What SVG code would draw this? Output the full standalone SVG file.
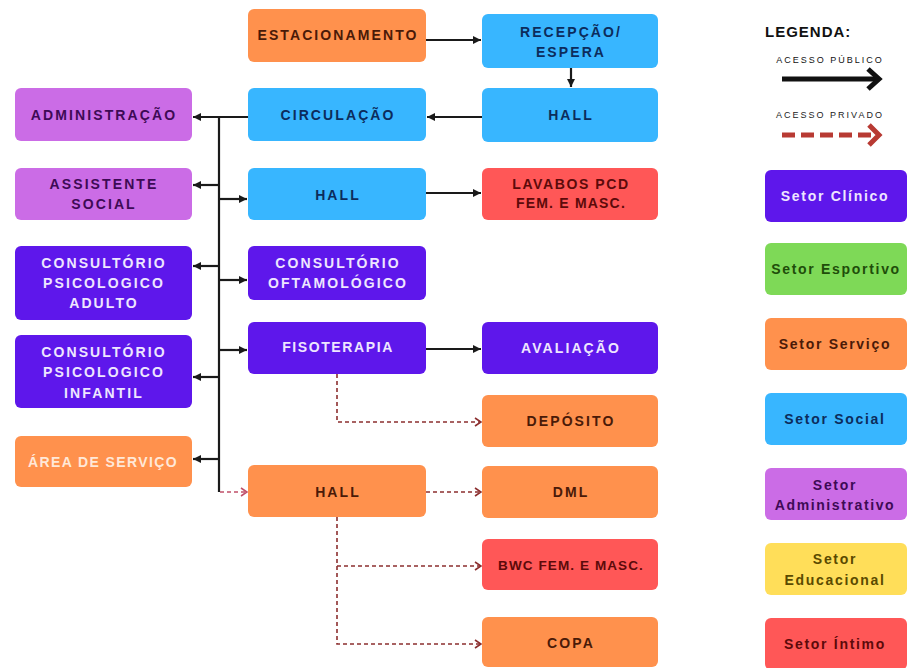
<svg xmlns="http://www.w3.org/2000/svg" width="907" height="668" viewBox="0 0 907 668">
<style>
.n text{font-family:"Liberation Sans",Arial,sans-serif;font-weight:700;font-size:14px;letter-spacing:2.1px;text-anchor:middle}
.lg text{font-family:"Liberation Sans",Arial,sans-serif;font-weight:700;font-size:14px;letter-spacing:1.7px;text-anchor:middle}
.or{fill:#FF914D}.bl{fill:#38B6FF}.lp{fill:#CB6CE6}.dp{fill:#5E17EB}.rd{fill:#FF5757}.gr{fill:#7ED957}.ye{fill:#FFDE59}
.tor{fill:#4a1a08}.tbl{fill:#0c2c5c}.tlp{fill:#3d0a55}.tdp{fill:#EEE6FF}.trd{fill:#5c0a0a}.tgr{fill:#1f4d0a}.tye{fill:#5a4a00}
.solid{fill:none;stroke:#1a1a1a;stroke-width:2.2}
.dash{fill:none;stroke:#8C2F2F;stroke-width:1.6;stroke-dasharray:4 3}
</style>
<defs>
<marker id="arr" markerUnits="userSpaceOnUse" markerWidth="8" markerHeight="8" refX="8" refY="4" orient="auto">
<path d="M0,0 L8,4 L0,8 z" fill="#1a1a1a"/>
</marker>
<marker id="open" markerUnits="userSpaceOnUse" markerWidth="8" markerHeight="10" refX="7" refY="5" orient="auto">
<path d="M1,1 L7,5 L1,9" fill="none" stroke="#8C2F2F" stroke-width="1.6"/>
</marker>
<marker id="openp" markerUnits="userSpaceOnUse" markerWidth="8" markerHeight="10" refX="7" refY="5" orient="auto">
<path d="M1,1 L7,5 L1,9" fill="none" stroke="#C0506A" stroke-width="1.6"/>
</marker>
</defs>
<rect width="907" height="668" fill="#ffffff"/>

<g id="connectors">
<path class="solid" d="M426,40 H481" marker-end="url(#arr)"/>
<path class="solid" d="M571,68 V87" marker-end="url(#arr)"/>
<path class="solid" d="M482,117 H427" marker-end="url(#arr)"/>
<path class="solid" d="M248,117 H193" marker-end="url(#arr)"/>
<path class="solid" d="M219,117 V492"/>
<path class="solid" d="M219,185 H193" marker-end="url(#arr)"/>
<path class="solid" d="M219,199 H247" marker-end="url(#arr)"/>
<path class="solid" d="M219,266 H193" marker-end="url(#arr)"/>
<path class="solid" d="M219,280 H247" marker-end="url(#arr)"/>
<path class="solid" d="M219,350 H247" marker-end="url(#arr)"/>
<path class="solid" d="M219,377 H193" marker-end="url(#arr)"/>
<path class="solid" d="M219,459 H193" marker-end="url(#arr)"/>
<path class="solid" d="M426,193 H481" marker-end="url(#arr)"/>
<path class="solid" d="M426,349 H481" marker-end="url(#arr)"/>
<path class="dash" style="stroke:#C0506A" d="M220,492 H247" marker-end="url(#openp)"/>
<path class="dash" d="M337,374 V422 H481" marker-end="url(#open)"/>
<path class="dash" d="M426,492 H481" marker-end="url(#open)"/>
<path class="dash" d="M337,517 V644 H481" marker-end="url(#open)"/>
<path class="dash" d="M337,566 H481" marker-end="url(#open)"/>
</g>

<g class="n">
<g id="estacionamento"><rect class="or" x="248" y="9" width="178" height="53" rx="6"/><text class="tor" x="338" y="40">ESTACIONAMENTO</text></g>
<g id="recepcao"><rect class="bl" x="482" y="14" width="176" height="54" rx="6"/><text class="tbl" x="571" y="37">RECEPÇÃO/</text><text class="tbl" x="571" y="57">ESPERA</text></g>
<g id="hall1"><rect class="bl" x="482" y="88" width="176" height="54" rx="6"/><text class="tbl" x="571" y="120">HALL</text></g>
<g id="circulacao"><rect class="bl" x="248" y="88" width="178" height="53" rx="6"/><text class="tbl" x="338" y="120">CIRCULAÇÃO</text></g>
<g id="administracao"><rect class="lp" x="15" y="88" width="177" height="53" rx="6"/><text class="tlp" x="104" y="120">ADMINISTRAÇÃO</text></g>
<g id="assistente"><rect class="lp" x="15" y="168" width="177" height="52" rx="6"/><text class="tlp" x="104" y="189">ASSISTENTE</text><text class="tlp" x="104" y="209">SOCIAL</text></g>
<g id="hall2"><rect class="bl" x="248" y="168" width="178" height="52" rx="6"/><text class="tbl" x="338" y="200">HALL</text></g>
<g id="lavabos"><rect class="rd" x="482" y="168" width="176" height="52" rx="6"/><text class="trd" x="571" y="189" style="letter-spacing:1.6px">LAVABOS PCD</text><text class="trd" x="571" y="208" style="letter-spacing:1.2px">FEM. E MASC.</text></g>
<g id="adulto"><rect class="dp" x="15" y="246" width="177" height="74" rx="6"/><text class="tdp" x="104" y="268">CONSULTÓRIO</text><text class="tdp" x="104" y="288">PSICOLOGICO</text><text class="tdp" x="104" y="308">ADULTO</text></g>
<g id="oftamologico"><rect class="dp" x="248" y="246" width="178" height="54" rx="6"/><text class="tdp" x="338" y="268">CONSULTÓRIO</text><text class="tdp" x="338" y="288">OFTAMOLÓGICO</text></g>
<g id="infantil"><rect class="dp" x="15" y="335" width="177" height="73" rx="6"/><text class="tdp" x="104" y="357">CONSULTÓRIO</text><text class="tdp" x="104" y="377">PSICOLOGICO</text><text class="tdp" x="104" y="398">INFANTIL</text></g>
<g id="fisoterapia"><rect class="dp" x="248" y="322" width="178" height="52" rx="6"/><text class="tdp" x="338" y="352" style="letter-spacing:1.6px">FISOTERAPIA</text></g>
<g id="avaliacao"><rect class="dp" x="482" y="322" width="176" height="52" rx="6"/><text class="tdp" x="571" y="353">AVALIAÇÃO</text></g>
<g id="deposito"><rect class="or" x="482" y="395" width="176" height="52" rx="6"/><text class="tor" x="571" y="426">DEPÓSITO</text></g>
<g id="area"><rect class="or" x="15" y="436" width="177" height="51" rx="6"/><text x="103" y="467" fill="#FFE8D8" style="letter-spacing:1.4px">ÁREA DE SERVIÇO</text></g>
<g id="hall3"><rect class="or" x="248" y="465" width="178" height="52" rx="6"/><text class="tor" x="338" y="497">HALL</text></g>
<g id="dml"><rect class="or" x="482" y="466" width="176" height="52" rx="6"/><text class="tor" x="571" y="497">DML</text></g>
<g id="bwc"><rect class="rd" x="482" y="539" width="176" height="51" rx="6"/><text class="trd" x="571" y="570" style="font-size:13.5px;letter-spacing:1.1px">BWC FEM. E MASC.</text></g>
<g id="copa"><rect class="or" x="482" y="617" width="176" height="50" rx="6"/><text class="tor" x="571" y="648">COPA</text></g>
</g>

<g id="legend" class="lg">
<text x="765" y="37" style="text-anchor:start;font-size:15px;letter-spacing:1px" fill="#111">LEGENDA:</text>
<text x="830" y="63" style="font-size:9px;font-weight:400;letter-spacing:2px" fill="#111">ACESSO PÚBLICO</text>
<path d="M782,79 H878" stroke="#111" stroke-width="5" fill="none"/>
<path d="M868,69 L879,79 L868,89" stroke="#111" stroke-width="5" fill="none" stroke-linejoin="miter"/>
<text x="830" y="118" style="font-size:9px;font-weight:400;letter-spacing:2px" fill="#222">ACESSO PRIVADO</text>
<path d="M782,135 H874" stroke="#B83A33" stroke-width="5" stroke-dasharray="13 6" fill="none"/>
<path d="M869,125 L879,135 L869,145" stroke="#B83A33" stroke-width="5" fill="none"/>
<g id="lg_clinico"><rect class="dp" x="765" y="170" width="142" height="52" rx="6"/><text class="tdp" x="835" y="201">Setor Clínico</text></g>
<g id="lg_esportivo"><rect class="gr" x="765" y="243" width="142" height="52" rx="6"/><text class="tgr" x="836" y="274">Setor Esportivo</text></g>
<g id="lg_servico"><rect class="or" x="765" y="318" width="142" height="52" rx="6"/><text class="tor" x="835" y="349">Setor Serviço</text></g>
<g id="lg_social"><rect class="bl" x="765" y="393" width="142" height="52" rx="6"/><text class="tbl" x="835" y="424">Setor Social</text></g>
<g id="lg_admin"><rect class="lp" x="765" y="468" width="142" height="52" rx="6"/><text class="tlp" x="835" y="490">Setor</text><text class="tlp" x="835" y="510" style="letter-spacing:1.6px">Administrativo</text></g>
<g id="lg_educ"><rect class="ye" x="765" y="543" width="142" height="52" rx="6"/><text class="tye" x="835" y="564">Setor</text><text class="tye" x="835" y="585">Educacional</text></g>
<g id="lg_intimo"><rect class="rd" x="765" y="618" width="142" height="52" rx="6"/><text class="trd" x="835" y="649">Setor Íntimo</text></g>
</g>
</svg>
